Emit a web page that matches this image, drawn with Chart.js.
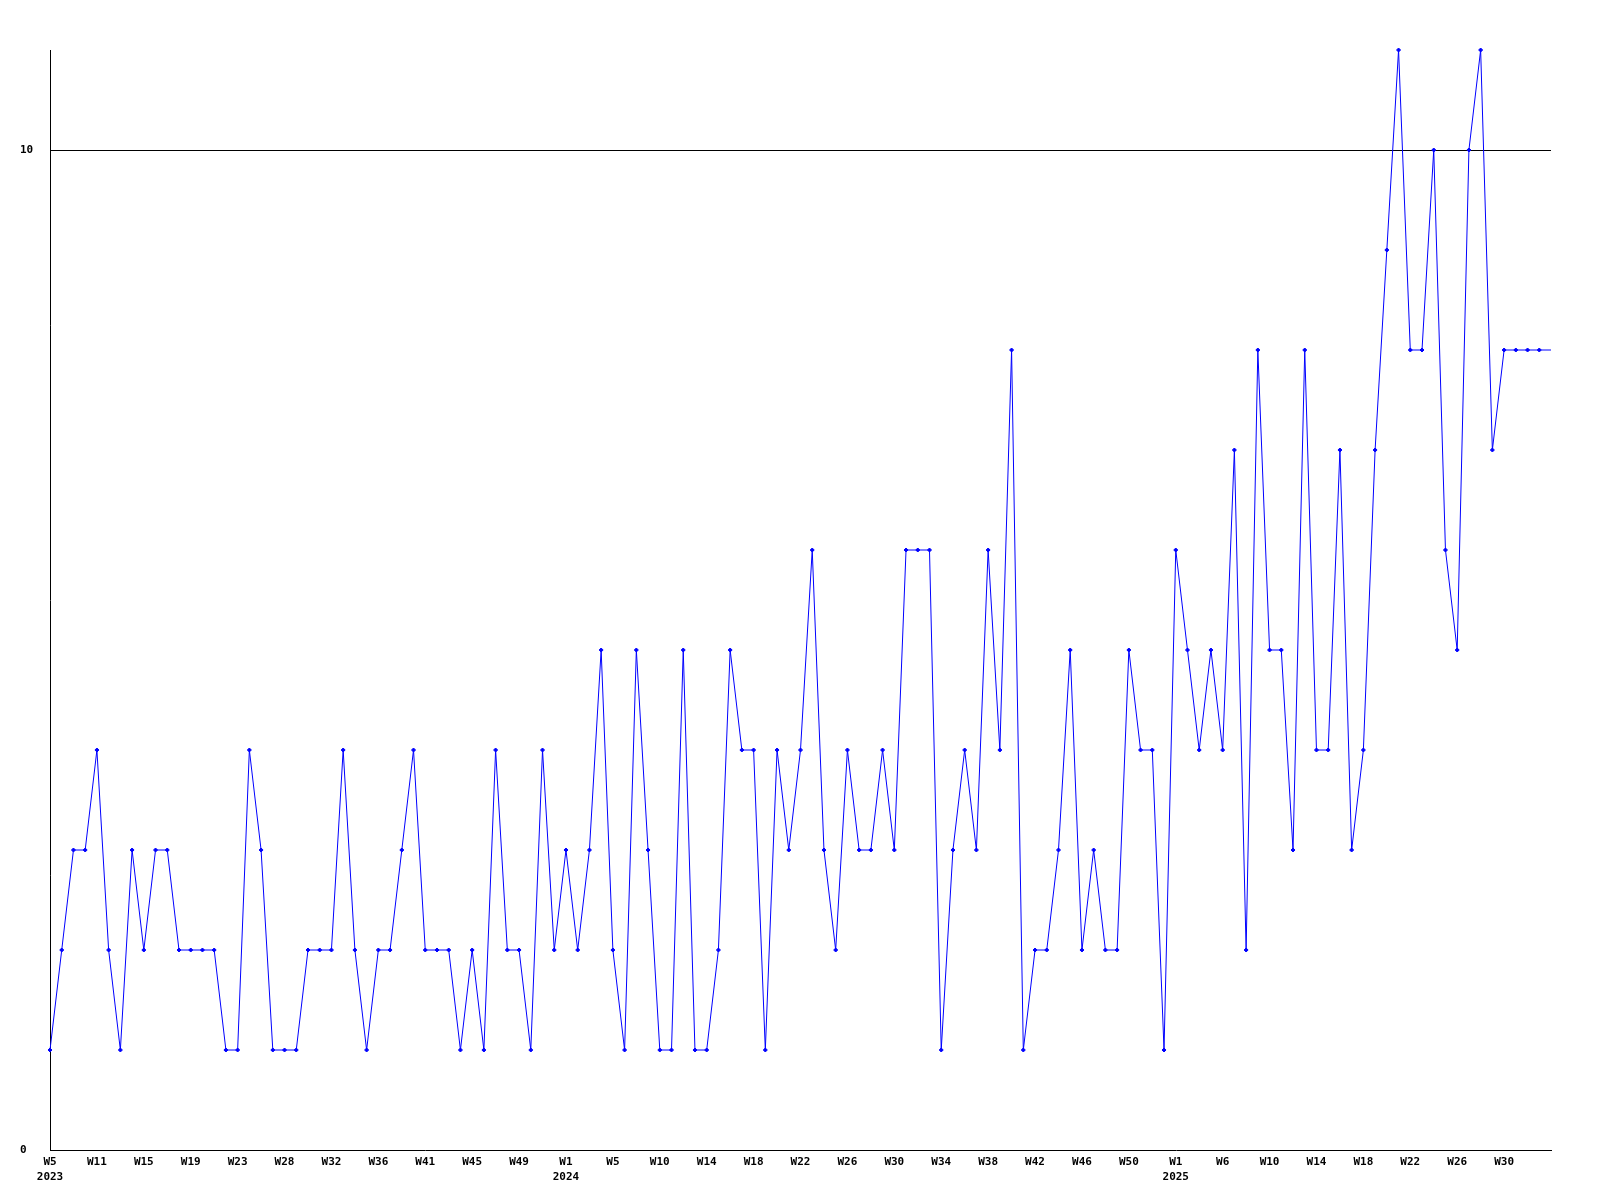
<!DOCTYPE html>
<html>
<head>
<meta charset="utf-8">
<title>Weekly count</title>
<script src="https://cdn.jsdelivr.net/npm/chart.js@4.4.1/dist/chart.umd.min.js"></script>
<style>
    html, body { margin: 0; padding: 0; background: #fff; }
    #wrap { width: 1600px; height: 1200px; }
</style>
</head>
<body>
<div id="wrap"><canvas id="chart" width="1600" height="1200"></canvas></div>
<script>
// --- Données ---

// une valeur par point, de 2023 W5 jusqu'au bord droit
const values = [
    1, 2, 3, 3, 4, 2, 1, 3, 2, 3, 3, 2, 2, 2, 2, 1, 1, 4, 3, 1, 1, 1, 2,
    2, 2, 4, 2, 1, 2, 2, 3, 4, 2, 2, 2, 1, 2, 1, 4, 2, 2, 1, 4, 2, 3,
    2, 3, 5, 2, 1, 5, 3, 1, 1, 5, 1, 1, 2, 5, 4, 4, 1, 4, 3, 4, 6, 3,
    2, 4, 3, 3, 4, 3, 6, 6, 6, 1, 3, 4, 3, 6, 4, 8, 1, 2, 2, 3, 5, 2,
    3, 2, 2, 5, 4, 4, 1, 6, 5, 4, 5, 4, 7, 2, 8, 5, 5, 3, 8, 4, 4, 7, 3,
    4, 7, 9, 11, 8, 8, 10, 6, 5, 10, 11, 7, 8, 8, 8, 8, 8
];

// étiquettes de l'axe X (une tous les 4 points)
const weekTicks = [
    'W5', 'W11', 'W15', 'W19', 'W23', 'W28', 'W32', 'W36', 'W41', 'W45', 'W49',
    'W1', 'W5', 'W10', 'W14', 'W18', 'W22', 'W26', 'W30', 'W34', 'W38', 'W42', 'W46', 'W50',
    'W1', 'W6', 'W10', 'W14', 'W18', 'W22', 'W26', 'W30'
];
const years = ['2023', '2024', '2025'];
const tickEvery = 4;

// graduations de l'axe Y
const yTicks = [0, 10];
const yMax = 11;

// --- Construction des libellés ---

const labels = values.map((v, i) => (i % tickEvery === 0 ? (weekTicks[i / tickEvery] || '') : ''));

// l'année s'affiche sous le premier tick de chaque année
const yearAt = {};
let yearIdx = 0;
let prevWeek = Infinity;
weekTicks.forEach((w, k) => {
    const n = parseInt(w.slice(1), 10);
    if (n < prevWeek) {
        yearAt[k * tickEvery] = years[yearIdx++];
    }
    prevWeek = n;
});

const BLUE = '#0000ff';
const FONT = { family: '"DejaVu Sans Mono", "Liberation Mono", monospace', size: 11, weight: 'bold', lineHeight: 1.4 };

new Chart(document.getElementById('chart'), {
    type: 'line',
    data: {
        labels,
        datasets: [{
            data: values,
            borderColor: BLUE,
            backgroundColor: BLUE,
            borderWidth: 1,
            tension: 0,
            clip: { left: 5, top: 5, right: 0, bottom: 5 },
            pointStyle: 'rectRot',
            pointRadius: ctx => (ctx.dataIndex === values.length - 1 ? 0 : 2),
            pointBorderWidth: 1,
            pointBorderColor: BLUE,
            pointBackgroundColor: BLUE
        }]
    },
    options: {
        responsive: false,
        animation: false,
        devicePixelRatio: 1,
        layout: { padding: { left: 20, right: 49, top: 50, bottom: 0 } },
        plugins: {
            legend: { display: false },
            tooltip: { enabled: false }
        },
        scales: {
            x: {
                type: 'category',
                offset: false,
                grid: { display: false, drawTicks: false },
                border: { display: true, color: '#000', width: 1 },
                ticks: {
                    autoSkip: false,
                    maxRotation: 0,
                    minRotation: 0,
                    padding: 4,
                    color: '#000',
                    font: FONT,
                    callback: (val, i) => {
                        const lbl = labels[i];
                        if (!lbl) return null;
                        return yearAt[i] ? [lbl, yearAt[i]] : lbl;
                    }
                },
                afterFit: scale => { scale.height = 50; }
            },
            y: {
                min: 0,
                max: yMax,
                grid: {
                    drawTicks: false,
                    color: ctx => (ctx.tick && ctx.tick.value === 10 ? '#000' : 'rgba(0,0,0,0)'),
                    lineWidth: 1
                },
                border: { display: true, color: '#000', width: 1 },
                ticks: {
                    crossAlign: 'far',
                    padding: 0,
                    color: '#000',
                    font: FONT
                },
                afterBuildTicks: scale => { scale.ticks = yTicks.map(v => ({ value: v })); },
                afterFit: scale => { scale.width = 30; }
            }
        }
    }
});
</script>
</body>
</html>
